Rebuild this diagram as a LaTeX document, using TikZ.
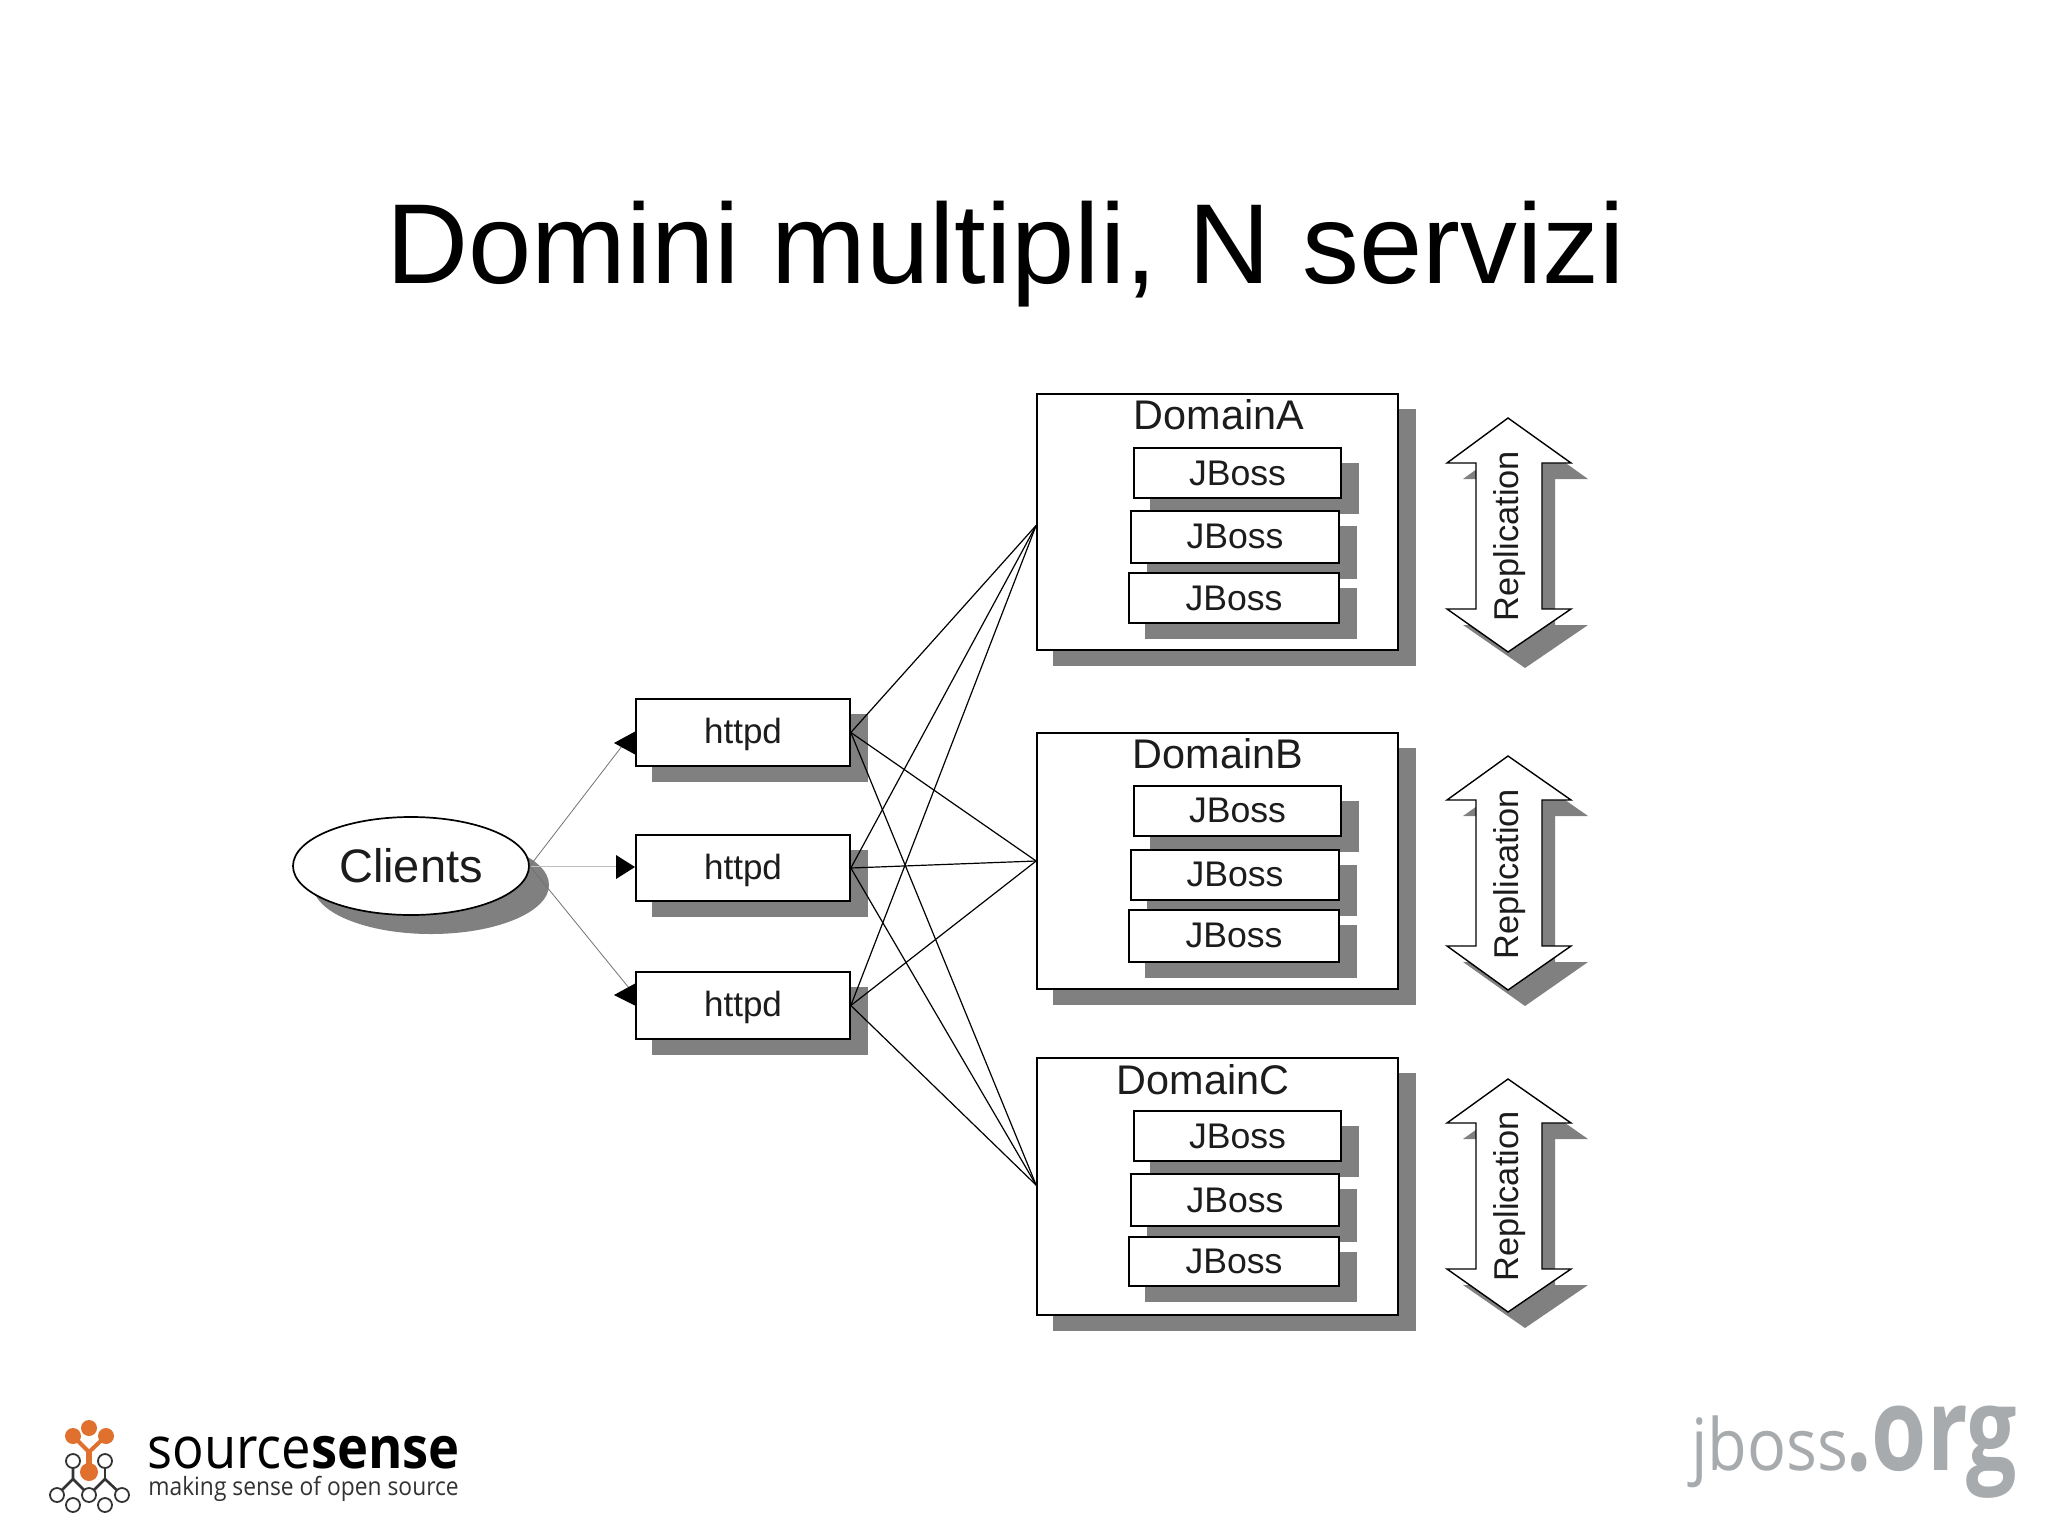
\documentclass[tikz,border=0pt]{standalone}
\usepackage{fontspec}
\setmainfont{Liberation Sans}
\newfontfamily\logofont{Open Sans}
\usetikzlibrary{shapes.geometric}
\definecolor{shade}{HTML}{808080}
\definecolor{orangelogo}{HTML}{E0702E}
\definecolor{darklogo}{HTML}{333333}
\definecolor{graylogo}{HTML}{A8ABAE}
\definecolor{labeltext}{HTML}{1C1C1C}
\tikzset{
  x=0.5pt,y=-0.5pt,
  boxline/.style={draw=black,line width=0.85pt,fill=white,inner sep=0pt,align=center,text=labeltext},
  shadowfill/.style={fill=shade,draw=none},
  wire/.style={draw=black,line width=0.6pt},
  clientwire/.style={draw=black!55,line width=0.4pt},
  tiphead/.style={fill=black,draw=none},
  replarrow/.style={draw=black,line width=0.7pt,fill=white},
  dot/.style={draw=darklogo,line width=0.9pt,fill=white,circle,inner sep=0pt,minimum size=7pt},
  odot/.style={fill=orangelogo,draw=none,circle,inner sep=0pt,minimum size=8pt},
  lab/.style={inner sep=0pt,text=labeltext},
}
% name, x0, y0, x1, y1, font size, text
\newcommand{\shbox}[7]{%
  \pgfmathsetmacro{\bxw}{(#4-#2)*0.5}%
  \pgfmathsetmacro{\bxh}{(#5-#3)*0.5}%
  \fill[shadowfill] (#2+16,#3+15) rectangle (#4+18,#5+16);
  \node[boxline,minimum width=\bxw pt,minimum height=\bxh pt,font=\fontsize{#6}{#6}\selectfont] (#1) at ({(#2+#4)/2},{(#3+#5)/2}) {#7};
}
% top tip y, head base y, lower base y, bottom tip y, name
\newcommand{\replic}[5]{%
  \fill[shadowfill] (1525,#1+16) -- (1588,#2+16) -- (1555,#2+16) -- (1555,#3+16) -- (1588,#3+16) -- (1525,#4+16) -- (1463,#3+16) -- (1496,#3+16) -- (1496,#2+16) -- (1463,#2+16) -- cycle;
  \draw[replarrow] (1508,#1) -- (1571,#2) -- (1542,#2) -- (1542,#3) -- (1571,#3) -- (1508,#4) -- (1447,#3) -- (1476,#3) -- (1476,#2) -- (1447,#2) -- cycle;
  \node[lab,rotate=90,font=\fontsize{17.2}{17.2}\selectfont] (#5) at (1510,{(#1+#4)/2+1}) {Replication};
}
\begin{document}
\begin{tikzpicture}
\useasboundingbox (0,0) rectangle (2048,1535);
\fill[white] (0,0) rectangle (2048,1535);

\node[anchor=base,inner sep=0pt,font=\fontsize{56.85}{56.85}\selectfont] (title) at (1005.5,284) {Domini multipli, N servizi};

% Domains
\shbox{doma}{1037}{394}{1398}{650}{1}{}
\shbox{domb}{1037}{733}{1398}{989}{1}{}
\shbox{domc}{1037}{1058}{1398}{1315}{1}{}
\node[lab,font=\fontsize{20.7}{20.7}\selectfont] (la) at (1219,415) {DomainA};
\node[lab,font=\fontsize{20.7}{20.7}\selectfont] (lb) at (1218,754) {DomainB};
\node[lab,font=\fontsize{20.7}{20.7}\selectfont] (lc) at (1203,1080) {DomainC};

% JBoss
\shbox{a1}{1134}{448}{1341}{498}{17.8}{JBoss}
\shbox{a2}{1131}{511}{1339}{563}{17.8}{\raisebox{0.5pt}{JBoss}}
\shbox{a3}{1129}{573}{1339}{623}{17.8}{JBoss}
\shbox{b1}{1134}{786}{1341}{836}{17.8}{\raisebox{0.6pt}{JBoss}}
\shbox{b2}{1131}{850}{1339}{900}{17.8}{\raisebox{1.2pt}{JBoss}}
\shbox{b3}{1129}{910}{1339}{962}{17.8}{\raisebox{1.2pt}{JBoss}}
\shbox{c1}{1134}{1111}{1341}{1161}{17.8}{\raisebox{-0.5pt}{JBoss}}
\shbox{c2}{1131}{1174}{1339}{1226}{17.8}{JBoss}
\shbox{c3}{1129}{1237}{1339}{1286}{17.8}{JBoss}

% Replication
\replic{418}{463}{609}{652}{ra}
\replic{756}{800}{946}{990}{rb}
\replic{1079}{1123}{1269}{1312}{rc}

% httpd
\begin{scope}[every node/.append style={text depth=1.4pt}]
\shbox{h1}{636}{699}{850}{766}{17.5}{httpd}
\shbox{h2}{636}{835}{850}{901}{17.5}{httpd}
\shbox{h3}{636}{972}{850}{1039}{17.5}{httpd}
\end{scope}

% Clients
\fill[shadowfill] (431,885) ellipse [x radius=118,y radius=49];
\node[ellipse,boxline,minimum width=118pt,minimum height=49pt,font=\fontsize{23.5}{23.5}\selectfont] (cl) at (411,866) {\raisebox{-0.5pt}{Clients}};

% Connectors httpd to domains
\coordinate (pa) at ([yshift=-1.7pt]doma.west);
\coordinate (pb) at (domb.west);
\coordinate (pc) at ([yshift=0.7pt]domc.west);
\foreach \h in {h1,h2,h3}{
  \foreach \d in {pa,pb,pc}{
    \draw[wire] (\h.east) -- (\d);
  }
}

% Client connectors
\coordinate (t1) at (629,737);
\coordinate (t2) at (616,866);
\coordinate (t3) at (629,988);
\draw[clientwire] (cl.east) -- (t1);
\draw[draw=black!25,line width=0.5pt] (cl.east) -- (t2);
\draw[clientwire] (cl.east) -- (t3);
\fill[tiphead] (614,743) -- (636,731) -- (636,755) -- cycle;
\fill[tiphead] (635,867) -- (616,855) -- (616,879) -- cycle;
\fill[tiphead] (614,995) -- (636,983) -- (636,1006) -- cycle;

% sourcesense logo
\draw[darklogo,line width=1.3pt,line join=round] (73,1461) -- (73,1479) -- (57,1495);
\draw[darklogo,line width=1.3pt,line join=round] (73,1479) -- (89,1495) -- (105,1479) -- (122,1495);
\draw[darklogo,line width=1.3pt] (105,1461) -- (105,1479);
\draw[orangelogo,line width=2pt] (73,1436) -- (89,1452) -- (106,1436);
\draw[orangelogo,line width=3pt] (89,1452) -- (89,1472);
\node[odot] (o1) at (89,1428) {};
\node[odot] (o2) at (73,1436) {};
\node[odot] (o3) at (106,1436) {};
\node[odot,minimum size=9pt] (o4) at (89,1472) {};
\node[dot] (d1) at (73,1461) {};
\node[dot] (d2) at (105,1461) {};
\node[dot] (d3) at (57,1495) {};
\node[dot] (d4) at (73,1505) {};
\node[dot] (d5) at (89,1495) {};
\node[dot] (d6) at (105,1505) {};
\node[dot] (d7) at (122,1495) {};
\node[anchor=base west,inner sep=0pt,xscale=0.905,font=\logofont\fontsize{29}{29}\selectfont,text=black] (ss) at (147,1468) {source\textbf{sense}};
\node[anchor=base west,inner sep=0pt,xscale=0.905,font=\logofont\fontsize{12.6}{12.6}\selectfont,text=darklogo] (ssb) at (148,1495) {making sense of open source};

% jboss.org logo
\node[anchor=base west,inner sep=0pt,xscale=0.9,font=\logofont\fontsize{36}{36}\selectfont,text=graylogo] (jb) at (1691,1470) {jboss};
\node[anchor=base west,inner sep=0pt,xscale=0.77,font=\logofont\bfseries\fontsize{58}{58}\selectfont,text=graylogo] (org) at (1846,1470) {.org};
\end{tikzpicture}
\end{document}
